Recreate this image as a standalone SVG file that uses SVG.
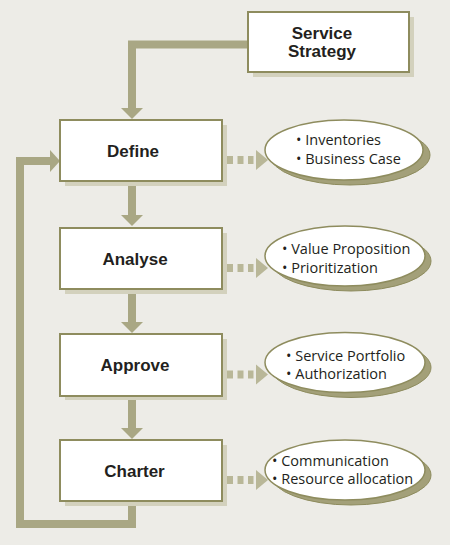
<svg xmlns="http://www.w3.org/2000/svg" width="450" height="545" viewBox="0 0 450 545">
<defs>
<style>
.bg{fill:#EDECE7}
.box{fill:#FFFFFF;stroke:#8E8C5E;stroke-width:2}
.bsh{fill:#D3D1BD}
.ell{fill:#FFFFFF;stroke:#8E8C5E;stroke-width:1.5}
.esh{fill:#A3A079;stroke:#8E8C5E;stroke-width:1}
.bar{fill:none;stroke:#A9A784;stroke-width:8;stroke-linejoin:miter}
.ah{fill:#A9A784}
.dash{fill:#B9B798}
.lbl{font-family:"Liberation Sans",Arial,sans-serif;font-weight:bold;font-size:17px;fill:#231F20;text-anchor:middle}
.itm{font-family:"Open Sans","Liberation Sans",Arial,sans-serif;font-size:14.5px;fill:#231F20}
</style>
</defs>
<rect class="bg" x="0" y="0" width="450" height="545"/>

<g id="connectors">
  <path class="bar" d="M248,44.5 H132 V109"/>
  <polygon class="ah" points="121,108 143,108 132,119"/>
  <path class="bar" d="M132,181 V216"/>
  <polygon class="ah" points="121,215 143,215 132,226"/>
  <path class="bar" d="M132,289 V323"/>
  <polygon class="ah" points="121,322 143,322 132,333"/>
  <path class="bar" d="M132,396 V429"/>
  <polygon class="ah" points="121,428 143,428 132,439"/>
  <path class="bar" d="M132,501 V524 H20 V161 H51"/>
  <polygon class="ah" points="50,150 50,172 60,161"/>

  <g id="dots-define">
    <rect class="dash" x="227" y="156" width="6" height="8"/>
    <rect class="dash" x="237.5" y="156" width="6" height="8"/>
    <rect class="dash" x="248" y="156" width="5.5" height="8"/>
    <polygon class="dash" points="256,150 256,170 268,160"/>
  </g>
  <g id="dots-analyse">
    <rect class="dash" x="227" y="264" width="6" height="8"/>
    <rect class="dash" x="237.5" y="264" width="6" height="8"/>
    <rect class="dash" x="248" y="264" width="5.5" height="8"/>
    <polygon class="dash" points="256,258 256,278 268,268"/>
  </g>
  <g id="dots-approve">
    <rect class="dash" x="227" y="370.5" width="6" height="8"/>
    <rect class="dash" x="237.5" y="370.5" width="6" height="8"/>
    <rect class="dash" x="248" y="370.5" width="5.5" height="8"/>
    <polygon class="dash" points="256,364.5 256,384.5 268,374.5"/>
  </g>
  <g id="dots-charter">
    <rect class="dash" x="227" y="476" width="6" height="8"/>
    <rect class="dash" x="237.5" y="476" width="6" height="8"/>
    <rect class="dash" x="248" y="476" width="5.5" height="8"/>
    <polygon class="dash" points="256,470 256,490 268,480"/>
  </g>
</g>

<g id="service-strategy">
  <rect class="bsh" x="253" y="17" width="161" height="60"/>
  <rect class="box" x="248" y="12" width="161" height="60"/>
  <text class="lbl" x="322" y="39">Service</text>
  <text class="lbl" x="322" y="57">Strategy</text>
</g>

<g id="define">
  <rect class="bsh" x="65" y="125" width="162" height="61"/>
  <rect class="box" x="60" y="120" width="162" height="61"/>
  <text class="lbl" x="133" y="157">Define</text>
</g>
<g id="analyse">
  <rect class="bsh" x="65" y="233" width="162" height="61"/>
  <rect class="box" x="60" y="228" width="162" height="61"/>
  <text class="lbl" x="135" y="264.5">Analyse</text>
</g>
<g id="approve">
  <rect class="bsh" x="65" y="339" width="162" height="61"/>
  <rect class="box" x="60" y="334" width="162" height="62"/>
  <text class="lbl" x="135" y="371">Approve</text>
</g>
<g id="charter">
  <rect class="bsh" x="65" y="445" width="162" height="61"/>
  <rect class="box" x="60" y="440" width="162" height="61"/>
  <text class="lbl" x="134.5" y="477">Charter</text>
</g>

<g id="define-outputs">
  <ellipse class="esh" cx="350" cy="155" rx="80" ry="30"/>
  <ellipse class="ell" cx="344" cy="150" rx="79" ry="30"/>
  <text class="itm" x="296" y="145">• Inventories</text>
  <text class="itm" x="296" y="164">• Business Case</text>
</g>
<g id="analyse-outputs">
  <ellipse class="esh" cx="351" cy="261" rx="80" ry="30"/>
  <ellipse class="ell" cx="345" cy="256" rx="80" ry="30"/>
  <text class="itm" x="282" y="254">• Value Proposition</text>
  <text class="itm" x="282" y="273">• Prioritization</text>
</g>
<g id="approve-outputs">
  <ellipse class="esh" cx="351" cy="367.5" rx="80" ry="30"/>
  <ellipse class="ell" cx="345" cy="362.5" rx="80" ry="30"/>
  <text class="itm" x="286" y="361">• Service Portfolio</text>
  <text class="itm" x="286" y="379">• Authorization</text>
</g>
<g id="charter-outputs">
  <ellipse class="esh" cx="351" cy="475" rx="80" ry="30"/>
  <ellipse class="ell" cx="345" cy="470" rx="80" ry="30"/>
  <text class="itm" x="272" y="466">• Communication</text>
  <text class="itm" x="272" y="484">• Resource allocation</text>
</g>
</svg>
